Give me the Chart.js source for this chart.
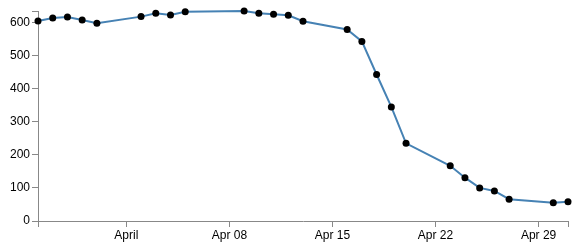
<!DOCTYPE html>
<html>
<head>
<meta charset="utf-8">
<script src="https://cdn.jsdelivr.net/npm/chart.js@4/dist/chart.umd.min.js"></script>
<style>
  html, body { margin: 0; padding: 0; background: #fff; }
  #c { display: block; }
</style>
</head>
<body>
<canvas id="c" width="580" height="248"></canvas>
<script>
// ---- data (month-day, year 2020) ----
const dates = ["03-26","03-27","03-28","03-29","03-30","04-02","04-03","04-04","04-05",
               "04-09","04-10","04-11","04-12","04-13","04-16","04-17","04-18","04-19",
               "04-20","04-23","04-24","04-25","04-26","04-27","04-30","05-01"];
const values = [605,614,617,608,598,618,628,623,633,
                635,628,625,622,604,579,543,443,345,
                235,167,131,100,91,66,55,58];
const xTickDates = ["04-01","04-08","04-15","04-22","04-29"];
const xTickLabels = ["April","Apr 08","Apr 15","Apr 22","Apr 29"];
const yTicks = [0,100,200,300,400,500,600];

const YEAR = 2020;
function dayOf(md) {
  const [m, d] = md.split("-").map(Number);
  return Date.UTC(YEAR, m - 1, d) / 86400000;
}
const d0 = dayOf(dates[0]);
const xs = dates.map(d => dayOf(d) - d0);
const points = xs.map((x, i) => ({ x: x, y: values[i] }));
const xMin = Math.min(...xs), xMax = Math.max(...xs);
const yMax = Math.max(...values);
const xTickPos = xTickDates.map(d => dayOf(d) - d0);
const xLabelMap = {};
xTickPos.forEach((p, i) => xLabelMap[p] = xTickLabels[i]);

const FONT = { family: "'Liberation Sans', Arial, sans-serif", size: 12 };
const AXIS = "#888";

new Chart(document.getElementById("c"), {
  type: "line",
  data: {
    datasets: [{
      data: points,
      borderColor: "#4682b4",
      borderWidth: 2,
      tension: 0,
      fill: false,
      pointRadius: 3.5,
      pointBackgroundColor: "#000",
      pointBorderColor: "#000",
      pointBorderWidth: 0,
      clip: false
    }]
  },
  options: {
    responsive: false,
    animation: false,
    events: [],
    layout: { padding: { top: 11, right: 12, left: 0, bottom: 0 } },
    plugins: { legend: { display: false }, tooltip: { enabled: false } },
    scales: {
      x: {
        type: "linear",
        min: xMin, max: xMax,
        afterBuildTicks: s => { s.ticks = [xMin, ...xTickPos, xMax].map(v => ({ value: v })); },
        afterFit: s => { s.height = 27; },
        ticks: {
          autoSkip: false, maxRotation: 0, color: "#000", font: FONT, padding: 1,
          callback: v => (xLabelMap[v] !== undefined ? xLabelMap[v] : "")
        },
        grid: { drawOnChartArea: false, drawTicks: true, tickLength: 6, color: AXIS, lineWidth: 1 },
        border: { display: true, color: AXIS, width: 1 }
      },
      y: {
        type: "linear",
        min: 0, max: yMax,
        afterBuildTicks: s => { s.ticks = [...yTicks, yMax].map(v => ({ value: v })); },
        afterFit: s => { s.width = 38; },
        ticks: {
          color: "#000", font: FONT, padding: 2,
          callback: v => (yTicks.includes(v) ? String(v) : "")
        },
        grid: { drawOnChartArea: false, drawTicks: true, tickLength: 6, color: AXIS, lineWidth: 1 },
        border: { display: true, color: AXIS, width: 1 }
      }
    }
  }
});
</script>
</body>
</html>
